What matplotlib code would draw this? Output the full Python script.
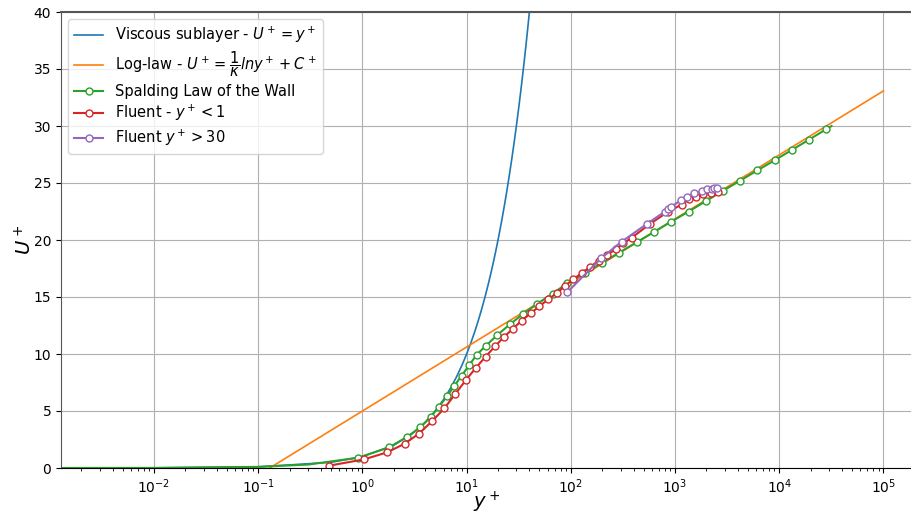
# -*- coding: UTF-8 -*-
# Law of the wall: viscous sublayer, log-law, Spalding and Fluent results


# Libraries
import matplotlib
matplotlib.use('Agg')
import matplotlib.pyplot as plt


# Data
viscous_yplus = [0.0013, 0.01, 0.1, 0.5, 1, 2, 3, 4, 5, 6, 7, 8, 9, 10, 11, 12, 13, 14, 15, 16, 17, 18,
                 19, 20, 21, 22, 23, 24, 25, 26, 27, 28, 29, 30, 31, 32, 33, 34, 35, 36, 37, 38, 39, 40,
                 41, 42, 43, 44, 45]
viscous_uplus = [0.0013, 0.01, 0.1, 0.5, 1, 2, 3, 4, 5, 6, 7, 8, 9, 10, 11, 12, 13, 14, 15, 16, 17, 18,
                 19, 20, 21, 22, 23, 24, 25, 26, 27, 28, 29, 30, 31, 32, 33, 34, 35, 36, 37, 38, 39, 40,
                 41, 42, 43, 44, 45]

loglaw_yplus = [0.1287, 1.0, 1e5]
loglaw_uplus = [0.0, 5.0, 33.08]

spalding_yplus = [0.0013, 0.01, 0.1, 0.3, 0.91, 1.80, 2.67, 3.59, 4.51, 5.42, 6.47, 7.6, 8.95, 10.6,
                  12.5, 15.2, 19.7, 26.0, 34.5, 47.6, 66.8, 92.4, 136, 200, 292, 428, 627, 914, 1352,
                  1967, 2864, 4198, 6150, 9036, 13240, 19280, 28050, 31800]
spalding_uplus = [0.0013, 0.01, 0.1, 0.3, 0.90, 1.81, 2.72, 3.57, 4.47, 5.38, 6.29, 7.19, 8.1, 9.03,
                  9.94, 10.7, 11.67, 12.6, 13.5, 14.4, 15.3, 16.2, 17.1, 18.0, 18.9, 19.8, 20.7, 21.6, 22.5,
                  23.4, 24.3, 25.2, 26.1, 27.0, 27.9, 28.8, 29.7, 30.0]
spalding_marks = list(range(4, len(spalding_yplus) - 1))  # markers only on the sampled points

fluent1_yplus = [0.477, 1.04, 1.72, 2.54, 3.48, 4.64, 6.1, 7.78, 9.78, 12.3, 15.2, 18.7, 22.8, 27.8,
                 33.7, 41.1, 49.8, 60.7, 73.5, 87.8, 105, 129, 153, 185, 220, 271, 320, 383, 574, 861,
                 1157, 1359, 1585, 1866, 2196, 2600]
fluent1_uplus = [0.2, 0.76, 1.37, 2.13, 3.01, 4.09, 5.23, 6.49, 7.69, 8.8, 9.77, 10.67, 11.49, 12.22,
                 12.92, 13.57, 14.18, 14.8, 15.35, 15.96, 16.55, 17.13, 17.63, 18.2, 18.68, 19.2, 19.7,
                 20.2, 21.4, 22.5, 23.1, 23.57, 23.8, 24.0, 24.15, 24.24]

fluent30_yplus = [92, 195, 307, 534, 800, 849, 914, 1140, 1292, 1518, 1800, 2010, 2245, 2365, 2510]
fluent30_uplus = [15.4, 18.4, 19.85, 21.4, 22.5, 22.7, 22.9, 23.5, 23.8, 24.1, 24.3, 24.5, 24.5, 24.6, 24.6]


# General variables
fig_w, fig_h, fig_dpi = 9.12, 5.12, 100
marker_size = 5
spine_color = '#555555'


# Figure and axes
fig = plt.figure(figsize=(fig_w, fig_h), dpi=fig_dpi)
ax = fig.add_axes([61 / 912, 44 / 512, 851 / 912, 456 / 512])

ax.plot(viscous_yplus, viscous_uplus, color='C0', linewidth=1.2, label=r'Viscous sublayer - $U^+=y^+$')
ax.plot(loglaw_yplus, loglaw_uplus, color='C1', linewidth=1.2,
        label=r'Log-law - $U^+=\dfrac{1}{\kappa}lny^+ + C^+$')
ax.plot(spalding_yplus, spalding_uplus, color='C2', linewidth=1.5, marker='o', markersize=marker_size,
        markerfacecolor='white', markevery=spalding_marks, label='Spalding Law of the Wall')
ax.plot(fluent1_yplus, fluent1_uplus, color='C3', linewidth=1.5, marker='o', markersize=marker_size,
        markerfacecolor='white', label=r'Fluent - $y^+<1$')
ax.plot(fluent30_yplus, fluent30_uplus, color='C4', linewidth=1.5, marker='o', markersize=marker_size,
        markerfacecolor='white', label=r'Fluent $y^+>30$')

ax.set_xscale('log')
ax.set_xlim(10 ** -2.893, 10 ** 5.274)
ax.set_ylim(0, 40)
ax.grid(True, which='major')
ax.set_axisbelow(True)
ax.set_xlabel(r'$y^+$', fontsize=14, labelpad=-5)
ax.set_ylabel(r'$U^+$', fontsize=14, labelpad=-1)

ax.spines['right'].set_visible(False)
ax.spines['left'].set_color(spine_color)
ax.spines['top'].set_color(spine_color)
ax.spines['top'].set_linewidth(1.5)
ax.spines['bottom'].set_color('black')

ax.legend(loc='upper left', fontsize=10.5, labelspacing=0.3)

plt.savefig('out.png', dpi=fig_dpi)
plt.close('all')
